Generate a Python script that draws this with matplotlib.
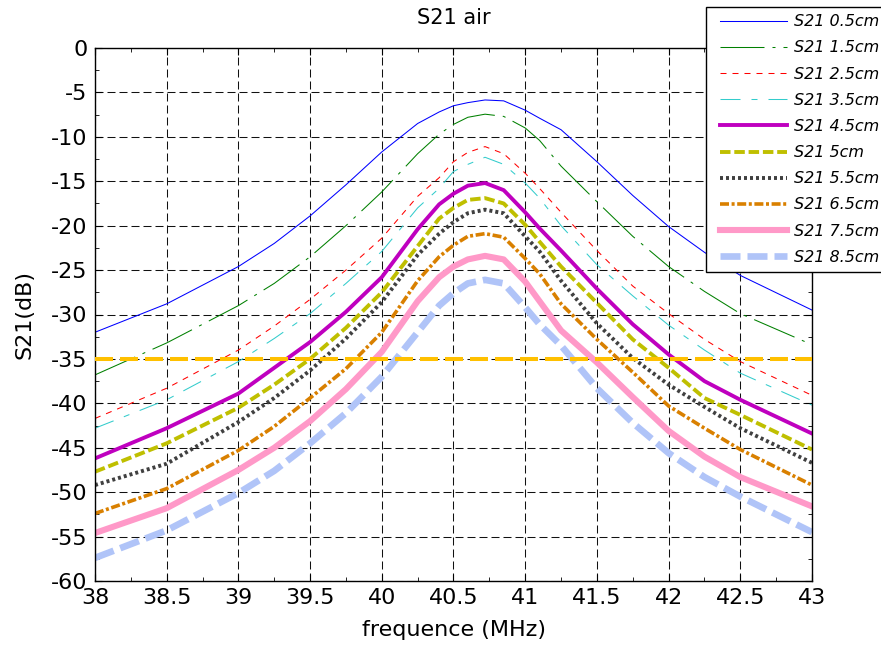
import matplotlib
matplotlib.use("Agg")
import matplotlib.pyplot as plt
from matplotlib.ticker import MultipleLocator, FuncFormatter
from matplotlib.lines import Line2D
from matplotlib.legend_handler import HandlerLine2D

plt.rcParams['font.family'] = ['DejaVu Sans']

freq = [38.0, 38.5, 39.0, 39.25, 39.5, 39.75, 40.0, 40.25, 40.4, 40.5, 40.6, 40.72,
        40.85, 41.0, 41.1, 41.25, 41.5, 41.75, 42.0, 42.25, 42.5, 43.0]

s21_05 = [-32.0, -28.8, -24.6, -22.0, -18.9, -15.4, -11.7, -8.5, -7.2, -6.5, -6.15, -5.85,
          -5.95, -7.0, -7.9, -9.2, -12.8, -16.6, -20.1, -23.0, -25.6, -29.5]
s21_15 = [-36.8, -33.2, -29.0, -26.5, -23.5, -20.0, -16.2, -11.9, -9.7, -8.6, -7.8, -7.45,
          -7.7, -9.0, -10.4, -13.3, -17.3, -21.2, -24.6, -27.4, -29.9, -33.4]
s21_25 = [-41.7, -38.3, -34.0, -31.3, -28.3, -25.0, -21.4, -16.7, -14.6, -12.8, -11.75, -11.1,
          -11.9, -14.1, -15.8, -18.5, -22.8, -26.8, -29.9, -32.8, -35.3, -39.1]
s21_35 = [-42.8, -39.6, -35.3, -32.7, -29.9, -26.5, -22.9, -18.0, -15.8, -13.9, -13.1, -12.3,
          -13.1, -15.2, -16.9, -20.0, -24.4, -27.9, -31.2, -34.0, -36.6, -40.2]
s21_45 = [-46.2, -42.8, -38.9, -36.0, -33.1, -29.7, -25.8, -20.4, -17.6, -16.4, -15.5, -15.2,
          -16.0, -18.5, -20.3, -22.8, -27.1, -31.1, -34.5, -37.5, -39.6, -43.4]
s21_5 = [-47.7, -44.5, -40.5, -37.9, -35.0, -31.5, -27.5, -22.3, -19.2, -18.0, -17.1, -16.9,
         -17.5, -19.9, -21.8, -24.6, -28.7, -32.8, -36.0, -39.4, -41.3, -45.2]
s21_55 = [-49.2, -46.8, -42.1, -39.4, -36.3, -32.7, -28.6, -23.3, -20.9, -19.6, -18.6, -18.2,
          -18.6, -21.2, -22.9, -26.2, -31.0, -34.9, -37.9, -40.4, -42.8, -46.7]
s21_65 = [-52.4, -49.6, -45.3, -42.6, -39.4, -36.1, -32.0, -26.2, -23.5, -22.2, -21.2, -20.9,
          -21.3, -23.7, -25.4, -28.8, -32.8, -36.5, -40.3, -42.8, -45.2, -49.2]
s21_75 = [-54.6, -51.8, -47.5, -45.0, -42.0, -38.4, -34.2, -28.5, -25.8, -24.6, -23.8, -23.4,
          -23.8, -26.3, -28.5, -31.8, -35.4, -39.3, -43.1, -46.0, -48.3, -51.6]
s21_85 = [-57.4, -54.3, -50.1, -47.6, -44.5, -41.1, -37.0, -32.0, -29.0, -27.6, -26.5, -26.1,
          -26.5, -29.2, -31.1, -33.5, -38.3, -42.2, -45.6, -48.3, -50.5, -54.5]

labels = ['S21 0.5cm', 'S21 1.5cm', 'S21 2.5cm', 'S21 3.5cm', 'S21 4.5cm',
          'S21 5cm', 'S21 5.5cm', 'S21 6.5cm', 'S21 7.5cm', 'S21 8.5cm']
threshold = -35


def dash(lw, *px):
    """dash pattern given in pixels -> units of linewidth"""
    unit = lw * 100 / 72
    return (0, tuple(p / unit for p in px))


series = [s21_05, s21_15, s21_25, s21_35, s21_45, s21_5, s21_55, s21_65, s21_75, s21_85]
styles = [
    dict(color='#0000FF', lw=0.75, ls='-'),
    dict(color='#008000', lw=0.75, ls=dash(0.75, 44, 8, 3, 8)),
    dict(color='#FF0000', lw=0.75, ls=dash(0.75, 6, 6)),
    dict(color='#33CCCC', lw=0.75, ls=dash(0.75, 20, 11, 6, 11)),
    dict(color='#BF00BF', lw=2.8, ls='-'),
    dict(color='#BFBF00', lw=2.8, ls=dash(2.8, 10.5, 3.8)),
    dict(color='#404040', lw=2.8, ls=dash(2.8, 3, 3)),
    dict(color='#D98000', lw=2.6, ls=dash(2.6, 9, 2.6, 3, 2.6)),
    dict(color='#FF99C8', lw=4.4, ls='-'),
    dict(color='#B0C4F8', lw=4.8, ls=dash(4.8, 20, 7)),
]

W, H = 881, 648
fig = plt.figure(figsize=(W / 100, H / 100), dpi=100)
ax = fig.add_axes([95 / W, (H - 581) / H, (812 - 95) / W, (581 - 48) / H])

for ys, st, lab in zip(series, styles, labels):
    ax.plot(freq, ys, label=lab, solid_joinstyle='round', **st)

ax.axhline(threshold, color='#FFC000', lw=2.9, ls=dash(2.9, 18, 7), zorder=3)

ax.set_xlim(38, 43)
ax.set_ylim(-60, 0)
ax.xaxis.set_major_locator(MultipleLocator(0.5))
ax.xaxis.set_minor_locator(MultipleLocator(0.25))
ax.yaxis.set_major_locator(MultipleLocator(5))
ax.yaxis.set_minor_locator(MultipleLocator(2.5))
ax.xaxis.set_major_formatter(FuncFormatter(lambda v, p: f"{v:g}"))
ax.yaxis.set_major_formatter(FuncFormatter(lambda v, p: f"{v:g}"))
ax.tick_params(which='both', direction='in', top=True, right=True, labelsize=16)
ax.tick_params(axis='y', pad=5.5)
ax.tick_params(axis='x', pad=5)
ax.tick_params(which='major', length=5)
ax.tick_params(which='minor', length=3)
ax.grid(True, which='major', color='#111111', ls=dash(0.75, 8, 4), lw=0.75)
for sp in ax.spines.values():
    sp.set_linewidth(1.0)

ax.set_title('S21 air', fontsize=15, pad=17)
ax.set_xlabel('frequence (MHz)', fontsize=16, labelpad=9)
ax.set_ylabel('S21(dB)', fontsize=16, labelpad=12)

leg = ax.legend(loc='upper left', bbox_to_anchor=(706 / W, 1 - 7 / H),
                bbox_transform=fig.transFigure,
                prop={'style': 'italic', 'size': 11.5},
                frameon=True, fancybox=False, edgecolor='black', framealpha=1,
                handlelength=4.6, labelspacing=0.70, borderpad=0.45,
                handletextpad=0.45, borderaxespad=0,
                handler_map={Line2D: HandlerLine2D(xpad=0.44)})
leg.get_frame().set_linewidth(1.0)

fig.savefig('out.png', dpi=100)
